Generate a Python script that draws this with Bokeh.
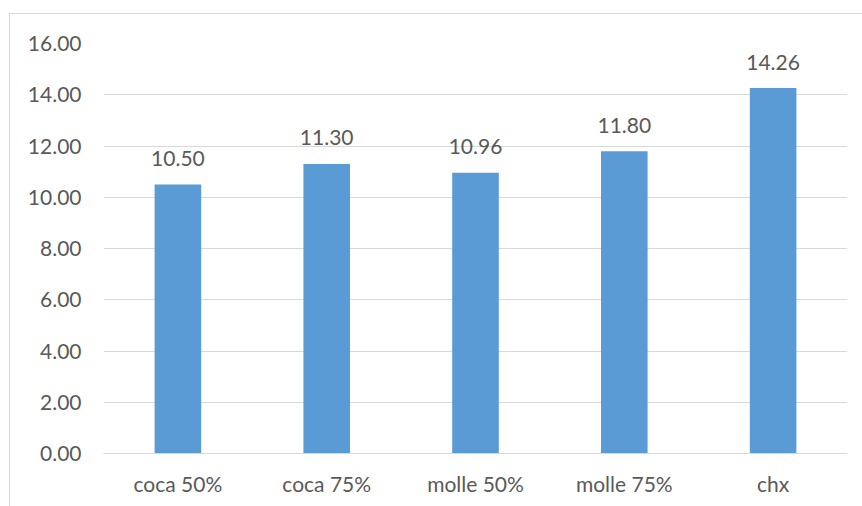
from bokeh.plotting import figure
from bokeh.models import Range1d, FactorRange, ColumnDataSource, FixedTicker, CustomJSTickFormatter
from bokeh.core.properties import value
from bokeh.embed import file_html
from bokeh.resources import INLINE

categories = ["coca 50%", "coca 75%", "molle 50%", "molle 75%", "chx"]
values = [10.50, 11.30, 10.96, 11.80, 14.26]
y_ticks = [0, 2, 4, 6, 8, 10, 12, 14, 16]

FONT = "Lato"
TXT = "#595959"
GRID = "#d9d9d9"
BAR = "#5b9bd5"

src = ColumnDataSource(dict(cat=categories, val=values, lab=["%.2f" % v for v in values]))

p = figure(
    width=853, height=493,
    x_range=FactorRange(*categories, range_padding=0),
    y_range=Range1d(0, 16),
    output_backend="svg", toolbar_location=None,
    min_border_left=93, min_border_right=16, min_border_top=29, min_border_bottom=54,
    styles={"margin-left": "9px", "margin-top": "13px",
            "border-left": f"1px solid {GRID}", "border-top": f"1px solid {GRID}"},
)
p.outline_line_color = None
p.background_fill_color = "white"
p.border_fill_color = "white"

p.vbar(x="cat", top="val", width=0.313, source=src, fill_color=BAR, line_color=None)
p.text(x="cat", y="val", text="lab", source=src, text_align="center", text_baseline="alphabetic",
       y_offset=-26, text_font=value(FONT), text_font_size="21px", text_color=TXT)

p.xgrid.grid_line_color = None
p.ygrid.grid_line_color = GRID
p.ygrid.grid_line_width = 1
p.ygrid.ticker = FixedTicker(ticks=y_ticks)

p.yaxis.ticker = FixedTicker(ticks=y_ticks)
p.yaxis.formatter = CustomJSTickFormatter(code="return tick.toFixed(2);")
p.yaxis.axis_line_color = None
p.yaxis.major_tick_line_color = None
p.yaxis.minor_tick_line_color = None
p.yaxis.major_tick_out = 0
p.yaxis.major_tick_in = 0
p.yaxis.major_label_standoff = 22
p.yaxis.major_label_text_font = FONT
p.yaxis.major_label_text_font_size = "21px"
p.yaxis.major_label_text_color = TXT

p.xaxis.axis_line_color = GRID
p.xaxis.major_tick_line_color = None
p.xaxis.minor_tick_line_color = None
p.xaxis.major_tick_out = 0
p.xaxis.major_tick_in = 0
p.xaxis.major_label_standoff = 17
p.xaxis.major_label_text_font = FONT
p.xaxis.major_label_text_font_size = "21px"
p.xaxis.major_label_text_color = TXT

open("out.html", "w").write(file_html(p, INLINE))
